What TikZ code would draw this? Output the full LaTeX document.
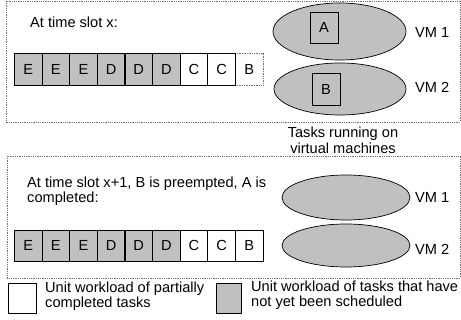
\documentclass[tikz,border=0pt]{standalone}
\usepackage{fontspec}
\setmainfont{Liberation Sans}
\usetikzlibrary{positioning,shapes.geometric}
\definecolor{unitgray}{HTML}{C0C0C0}
\definecolor{framegray}{HTML}{707070}
\begin{document}
\begin{tikzpicture}[x=1pt,y=-1pt,
  every node/.style={font=\fontsize{14.6}{16}\selectfont, inner sep=0pt},
  frame/.style={draw=framegray, densely dotted, line width=0.8pt},
  cellbase/.style={draw=black, line width=0.7pt, minimum width=27.6pt, anchor=west},
  todo/.style={cellbase, fill=unitgray},
  part/.style={cellbase, fill=white},
  ghost/.style={cellbase, draw=framegray, densely dotted, fill=white},
  vm/.style={ellipse, draw=black, line width=0.7pt, fill=unitgray},
  task/.style={draw=black, line width=0.8pt, fill=unitgray},
  lbl/.style={anchor=base west},
  keybox/.style={draw=black, line width=0.7pt, minimum width=28pt, minimum height=30pt, anchor=north west}
]
\useasboundingbox (0,0) rectangle (461,320);

% ---- time slot x ----
\draw[frame] (6,1) rectangle (460,122);
\node[lbl] (t1) at (30,28) {At time slot x:};

\node[ghost, minimum height=32pt] (q9) at (235,69) {B};
\foreach \i/\l/\s in {1/E/todo,2/E/todo,3/E/todo,4/D/todo,5/D/todo,6/D/todo,7/C/part,8/C/part}{
  \node[\s, minimum height=32pt] (q\i) at ({14+(\i-1)*27.625},69) {\l};
}

\node[vm, minimum width=133pt, minimum height=57pt] (vmA) at (339.5,31.5) {};
\node[task, minimum width=28pt, minimum height=31pt] (tA) at (324,27.5) {A};
\node[lbl] (vmA-l) at (415,38) {VM 1};
\node[vm, minimum width=132pt, minimum height=52pt] (vmB) at (340,89) {};
\node[task, minimum width=28pt, minimum height=32pt] (tB) at (326,89) {B};
\node[lbl] (vmB-l) at (415,93) {VM 2};

% multi-line labels: the base anchor sits on the last line
\node[align=center, anchor=base] (cap) at (343,154) {Tasks running on\\virtual machines};

% ---- time slot x+1 ----
\draw[frame] (7,156) rectangle (460,278);
\node[lbl, align=left] (t2) at (27,203) {At time slot x+1, B is preempted, A is\\[-1pt]completed:};

\foreach \i/\l/\s in {1/E/todo,2/E/todo,3/E/todo,4/D/todo,5/D/todo,6/D/todo,7/C/part,8/C/part,9/B/part}{
  \node[\s, minimum height=31pt] (r\i) at ({14+(\i-1)*27.625},245.5) {\l};
}

\node[vm, minimum width=128pt, minimum height=45pt] (vmC) at (346,197.5) {};
\node[lbl] (vmC-l) at (415,203) {VM 1};
\node[vm, minimum width=128pt, minimum height=43pt] (vmD) at (346,245.5) {};
\node[lbl] (vmD-l) at (415,255) {VM 2};

% ---- key ----
\node[keybox, fill=white] (k1) at (8,283) {};
\node[lbl, align=left] (k1-t) at (45,308) {Unit workload of partially\\[-1pt]completed tasks};
\node[keybox, fill=unitgray, minimum width=25pt] (k2) at (216,283) {};
\node[lbl, align=left] (k2-t) at (251,307) {Unit workload of tasks that have\\[-1pt]not yet been scheduled};
\end{tikzpicture}
\end{document}
